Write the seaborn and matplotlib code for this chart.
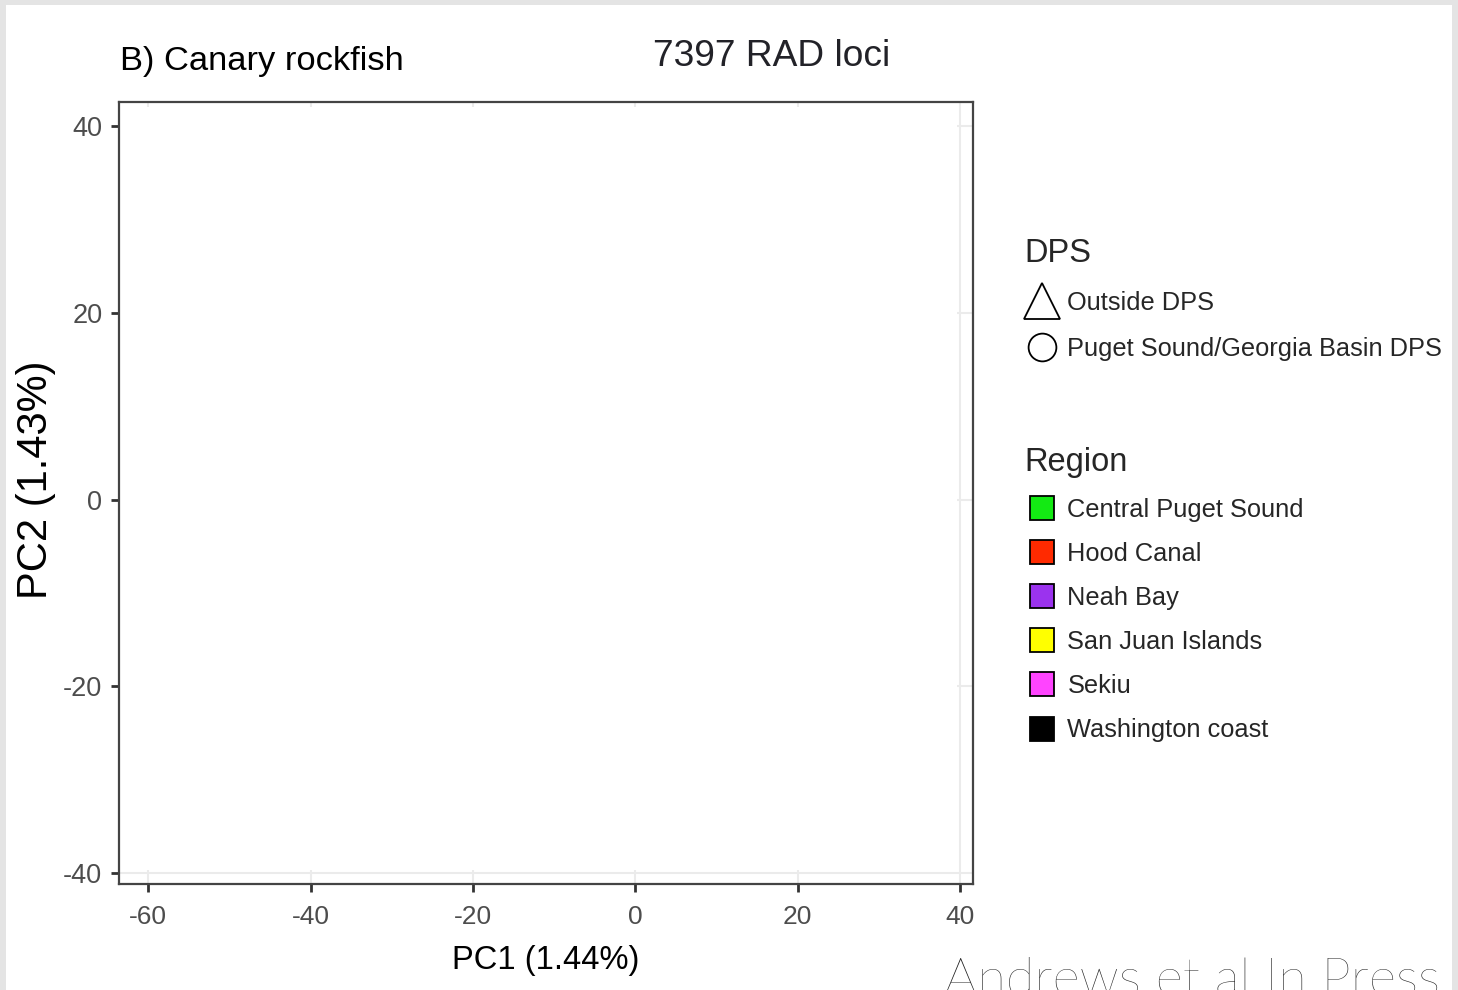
import matplotlib
matplotlib.use("Agg")
import matplotlib.pyplot as plt
from matplotlib.lines import Line2D
from matplotlib.patches import Rectangle
import seaborn as sns
import pandas as pd

# Sample scores (none plotted in this panel) and legend categories
pc1_scores = []
pc2_scores = []
region_labels = ["Central Puget Sound", "Hood Canal", "Neah Bay",
                 "San Juan Islands", "Sekiu", "Washington coast"]
region_colors = ["#13ea13", "#ff2a00", "#9b33ee", "#ffff00", "#ff44ff", "#000000"]
dps_labels = ["Outside DPS", "Puget Sound/Georgia Basin DPS"]
dps_markers = ["^", "o"]
x_ticks = [-60, -40, -20, 0, 20, 40]
y_ticks = [-40, -20, 0, 20, 40]

W, H = 1458, 990
sns.set_theme(style="white")
sans = ["Liberation Sans", "DejaVu Sans"]
plt.rcParams["font.family"] = sans

fig = plt.figure(figsize=(W / 100, H / 100), dpi=100)
fig.patch.set_facecolor("#e4e4e4")
fig.add_artist(Rectangle((6 / W, 0), (1452 - 6) / W, 1 - 5 / H,
                         transform=fig.transFigure, facecolor="white",
                         edgecolor="none", zorder=0))

ax = fig.add_axes([119 / W, 1 - 884 / H, (973 - 119) / W, (884 - 102) / H])
df = pd.DataFrame({"PC1": pd.Series(pc1_scores, dtype=float),
                   "PC2": pd.Series(pc2_scores, dtype=float)})
sns.scatterplot(data=df, x="PC1", y="PC2", ax=ax, legend=False)

ax.set_xlim(-63.6, 41.6)
ax.set_ylim(-41.2, 42.6)
ax.set_xticks(x_ticks)
ax.set_yticks(y_ticks)
ax.set_xticklabels([str(v) for v in x_ticks], fontsize=19, color="#4d4d4d")
ax.set_yticklabels([str(v) for v in y_ticks], fontsize=19.5, color="#4d4d4d")
ax.tick_params(axis="both", direction="out", length=6, width=2, color="#333333",
               bottom=True, left=True)
ax.tick_params(axis="x", pad=9)
ax.tick_params(axis="y", pad=6)

ax.set_axisbelow(True)
ax.grid(True, color="#ebebeb", linewidth=1.5)
# plain panel interior
ax.add_patch(Rectangle((0.0, 0.018), 0.981, 0.976, transform=ax.transAxes,
                       facecolor="white", edgecolor="none", zorder=0.8))
for s in ax.spines.values():
    s.set_color("#444444")
    s.set_linewidth(1.6)
    s.set_visible(True)

ax.set_xlabel("PC1 (1.44%)", fontsize=23.5, color="black", labelpad=12)
ax.set_ylabel("PC2 (1.43%)", fontsize=30, color="black")
ax.yaxis.set_label_coords(-0.074, 0.5166)

fig.text(120 / W, 1 - 70 / H, "B) Canary rockfish", fontsize=24.8,
         ha="left", va="baseline", color="black")
fig.text(772 / W, 1 - 66 / H, "7397 RAD loci", fontsize=26.7,
         ha="center", va="baseline", color="#222228")

# Legends
dps_handles = [Line2D([], [], linestyle="none", marker=m, markersize=ms,
                      markerfacecolor="none", markeredgecolor="black",
                      markeredgewidth=1.3)
               for m, ms in zip(dps_markers, [26, 20])]
leg1 = fig.legend(dps_handles, dps_labels, title="DPS", loc="upper left",
                  bbox_to_anchor=(1024 / W, 1 - 238 / H), frameon=False,
                  prop={"size": 18.3}, title_fontsize=23.5,
                  alignment="left", borderpad=0, borderaxespad=0,
                  handlelength=1.4, handletextpad=0.31, labelspacing=0.86)

reg_handles = [Line2D([], [], linestyle="none", marker="s", markersize=17,
                      markerfacecolor=c, markeredgecolor="black",
                      markeredgewidth=1.3) for c in region_colors]
leg2 = fig.legend(reg_handles, region_labels, title="Region", loc="upper left",
                  bbox_to_anchor=(1024 / W, 1 - 447 / H), frameon=False,
                  prop={"size": 18.3}, title_fontsize=23.5,
                  alignment="left", borderpad=0, borderaxespad=0,
                  handlelength=1.4, handletextpad=0.31, labelspacing=0.79)

fig.text(1440 / W, 1 - 995 / H, "Andrews et al In Press", family=["Lato", "DejaVu Sans"],
         fontweight="light", fontsize=37.7, ha="right", va="baseline", color="#222222")

fig.savefig("out.png", dpi=100, facecolor=fig.get_facecolor())
